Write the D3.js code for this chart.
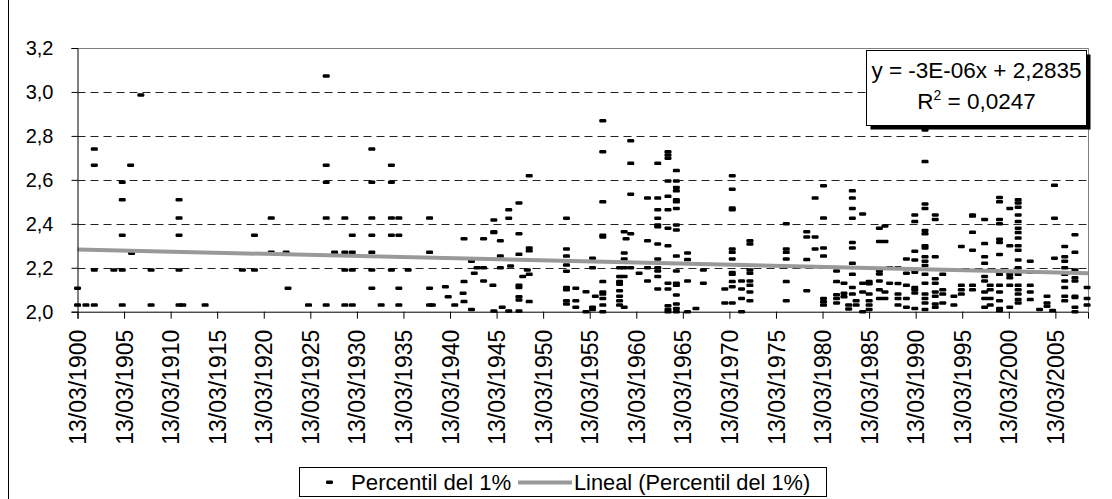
<!DOCTYPE html>
<html>
<head>
<meta charset="utf-8">
<script src="https://cdn.jsdelivr.net/npm/d3@7"></script>
<style>
  body { margin: 0; background: #fff; }
  svg { display: block; font-family: "Liberation Sans", Arial, sans-serif; }
</style>
</head>
<body>
<svg width="1112" height="499"></svg>
<script>

// fecha (anio decimal) de cada columna de puntos, y sus valores
var columnasAnio = [
  1900.2, 1901.1, 1902.0, 1904.1, 1905.0, 1905.9, 1906.0, 1907.0, 1908.1, 1911.1,
  1911.5, 1913.9, 1917.9, 1919.2, 1921.0, 1922.6, 1922.8, 1925.0, 1926.9, 1927.8,
  1928.9, 1929.7, 1931.8, 1932.8, 1933.9, 1934.7, 1935.7, 1938.0, 1938.3, 1939.7,
  1940.0, 1940.7, 1941.7, 1941.6, 1942.5, 1942.8, 1943.1, 1943.8, 1944.8, 1944.9,
  1945.6, 1945.8, 1946.5, 1946.7, 1947.6, 1948.0, 1948.5, 1948.7, 1952.7, 1953.7,
  1954.8, 1955.5, 1955.8, 1956.6, 1958.4, 1958.9, 1959.1, 1959.6, 1960.5, 1961.4,
  1962.5, 1963.6, 1964.5, 1965.7, 1966.6, 1967.4, 1969.7, 1970.5, 1971.5, 1972.4,
  1976.3, 1978.5, 1979.4, 1980.3, 1981.7, 1982.5, 1983.0, 1983.4, 1983.8, 1984.5,
  1985.2, 1986.3, 1986.9, 1987.4, 1988.3, 1989.2, 1990.1, 1991.2, 1992.3, 1993.1,
  1994.3, 1995.1, 1996.3, 1997.6, 1998.2, 1999.2, 2000.3, 2001.2, 2002.5, 2003.5,
  2004.3, 2004.9, 2005.1, 2006.2, 2007.3, 2008.6
];

var columnasValores = [
  [2.107, 2.03], [2.03], [2.74, 2.667, 2.19, 2.03], [2.19], [2.589, 2.51, 2.348, 2.19, 2.03],
  [2.667], [2.266], [2.986], [2.19, 2.03], [2.51, 2.426, 2.348, 2.19, 2.03],
  [2.03], [2.03], [2.19], [2.348, 2.19], [2.426, 2.27],
  [2.27], [2.107], [2.03], [3.073, 2.667, 2.589, 2.426, 2.03], [2.27],
  [2.426, 2.27, 2.19, 2.03], [2.348, 2.27, 2.19, 2.03], [2.74, 2.589, 2.426, 2.348, 2.27, 2.19, 2.107], [2.03], [2.667, 2.589, 2.426, 2.348, 2.19],
  [2.426, 2.348, 2.107, 2.03], [2.19], [2.426, 2.27, 2.107, 2.03], [2.03], [2.114],
  [2.068], [2.03], [2.332, 2.137, 2.046], [2.084], [2.23, 2.01],
  [2.175], [2.2], [2.332, 2.2, 2.14], [2.12], [2.417, 2.364, 2.36, 2.003],
  [2.323, 2.253, 2.2], [2.02], [2.464, 2.425, 2.003], [2.208], [2.495, 2.355, 2.261, 2.12, 2.11, 2.068, 2.053, 2.003],
  [2.16], [2.19], [2.619, 2.29, 2.277, 2.17, 2.046], [2.425, 2.285, 2.253, 2.212, 2.184, 2.11, 2.1, 2.05, 2.035], [2.107, 2.05, 2.02],
  [2.091, 2.0], [2.243, 2.2, 2.02, 2.01], [2.07], [2.869, 2.728, 2.5, 2.348, 2.34, 2.137, 2.09, 2.08, 2.06, 2.03, 2.0], [2.2, 2.16, 2.137, 2.125, 2.095, 2.07, 2.05, 2.03],
  [2.364, 2.267, 2.24, 2.2, 2.16, 2.02], [2.332], [2.778, 2.675, 2.535, 2.355, 2.2], [2.175], [2.517, 2.323, 2.2, 2.14],
  [2.517, 2.675, 2.464, 2.425, 2.395, 2.387, 2.308, 2.24, 2.2, 2.185, 2.16, 2.103],
  [2.728, 2.713, 2.698, 2.595, 2.525, 2.464, 2.38, 2.3, 2.13, 2.103, 2.027, 2.01, 2.0],
  [2.642, 2.595, 2.565, 2.55, 2.51, 2.5, 2.47, 2.395, 2.372, 2.253, 2.185, 2.13, 2.12, 2.076, 2.035, 2.015, 2.0],
  [2.267, 2.237, 2.14, 2.0], [2.015], [2.19, 2.13], [2.103, 2.04],
  [2.619, 2.557, 2.472, 2.464, 2.285, 2.27, 2.24, 2.178, 2.17, 2.137, 2.114, 2.04],
  [2.14, 2.103, 2.06, 2.0], [2.323, 2.308, 2.19, 2.175, 2.14, 2.12, 2.09, 2.05],
  [2.4, 2.285, 2.27, 2.24, 2.137, 2.05], [2.364, 2.34, 2.237, 2.095], [2.517, 2.34, 2.285],
  [2.573, 2.426, 2.29, 2.253, 2.06, 2.045, 2.03], [2.185, 2.137, 2.077, 2.06, 2.04], [2.13, 2.084, 2.068], [2.03, 2.012],
  [2.55, 2.517, 2.47, 2.425, 2.315, 2.29, 2.22, 2.17, 2.11, 2.08], [2.05, 2.03], [2.445, 2.13, 2.09, 2.0],
  [2.137, 2.127, 2.08, 2.05, 2.03, 2.01], [2.38, 2.32, 2.185, 2.172, 2.14, 2.1, 2.06], [2.39, 2.32, 2.09, 2.06],
  [2.2, 2.13], [2.2, 2.128, 2.08, 2.06, 2.03], [2.24, 2.175, 2.12, 2.06, 2.02],
  [2.44, 2.41, 2.275, 2.235, 2.18, 2.11, 2.1, 2.085, 2.015],
  [2.827, 2.683, 2.49, 2.47, 2.37, 2.355, 2.3, 2.29, 2.25, 2.23, 2.21, 2.17, 2.13, 2.08, 2.06, 2.04, 2.01],
  [2.44, 2.42, 2.25, 2.15, 2.13, 2.09, 2.07, 2.035, 2.02], [2.17, 2.1, 2.08, 2.04], [2.07, 2.03],
  [2.297, 2.12, 2.1, 2.08], [2.44, 2.435, 2.361, 2.28, 2.12, 2.1], [2.42, 2.31, 2.25, 2.22, 2.16, 2.14, 2.09, 2.06, 2.02],
  [2.12, 2.1, 2.06, 2.03], [2.52, 2.5, 2.42, 2.4, 2.33, 2.315, 2.26, 2.17, 2.12, 2.09, 2.05, 2.015, 2.005],
  [2.47, 2.3, 2.17, 2.155, 2.12, 2.02],
  [2.51, 2.495, 2.475, 2.44, 2.41, 2.38, 2.36, 2.335, 2.3, 2.28, 2.235, 2.2, 2.17, 2.12, 2.1, 2.08, 2.055, 2.04],
  [2.23, 2.18, 2.12, 2.09, 2.055], [2.01], [2.07, 2.04, 2.025], [2.005], [2.575, 2.425, 2.243],
  [2.297, 2.25, 2.23, 2.2, 2.17, 2.14, 2.11, 2.07, 2.05], [2.35, 2.27, 2.19, 2.155, 2.14, 2.07, 2.065, 2.02, 2.0],
  [2.11, 2.06, 2.03]
];

var etiquetasX = ["13/03/1900", "13/03/1905", "13/03/1910", "13/03/1915", "13/03/1920", "13/03/1925",
  "13/03/1930", "13/03/1935", "13/03/1940", "13/03/1945", "13/03/1950", "13/03/1955", "13/03/1960",
  "13/03/1965", "13/03/1970", "13/03/1975", "13/03/1980", "13/03/1985", "13/03/1990", "13/03/1995",
  "13/03/2000", "13/03/2005"];
var ticksY = [2.0, 2.2, 2.4, 2.6, 2.8, 3.0, 3.2];
var rangoFechas = ["13/03/1900", "13/09/2008"];

// tendencia lineal de Excel (x = numero de serie de fecha)
var tendPendiente = -2.72e-6;
var tendOrdenada = 2.2835;
var textoEcuacion = "y = -3E-06x + 2,2835";
var textoR2 = "0,0247";

var parse = d3.utcParse("%d/%m/%Y");
var serieBase = Date.UTC(1899, 11, 30);

function fechaDeAnio(a) {
  var y0 = Math.floor(a);
  var s = Date.UTC(y0, 0, 1), e = Date.UTC(y0 + 1, 0, 1);
  return new Date(s + (a - y0) * (e - s));
}

var puntos = [];
columnasAnio.forEach(function(a, i) {
  columnasValores[i].forEach(function(v) {
    puntos.push({fecha: fechaDeAnio(a), valor: v});
  });
});

var svg = d3.select("svg");
var pLeft = 77.5, pRight = 1088, pTop = 48, pBottom = 311.7;

var x = d3.scaleUtc()
    .domain(rangoFechas.map(parse))
    .range([pLeft, pRight]);
var y = d3.scaleLinear()
    .domain([2.0, 3.2])
    .range([pBottom, pTop]);

// marco del grafico
svg.append("line")
    .attr("x1", 8.5).attr("x2", 8.5).attr("y1", 0).attr("y2", 499)
    .attr("stroke", "#000");

// lineas de division
svg.append("g")
  .selectAll("line")
  .data(ticksY.filter(function(d) { return d > 2.0 && d < 3.2; }))
  .enter().append("line")
    .attr("x1", pLeft).attr("x2", pRight)
    .attr("y1", function(d) { return Math.round(y(d)) + 0.5; })
    .attr("y2", function(d) { return Math.round(y(d)) + 0.5; })
    .attr("stroke", "#222")
    .attr("stroke-dasharray", "8,5");

// borde del area de trazado
svg.append("path")
    .attr("d", "M" + pLeft + "," + (pTop + 0.5) + "H" + (pRight + 0.5) + "V" + pBottom)
    .attr("fill", "none")
    .attr("stroke", "#808080");

// puntos (marcador guion)
svg.append("g")
  .selectAll("rect")
  .data(puntos)
  .enter().append("rect")
    .attr("x", function(d) { return x(d.fecha) - 3.5; })
    .attr("y", function(d) { return y(d.valor) - 1.75; })
    .attr("width", 7)
    .attr("height", 3.5)
    .attr("rx", 1.2)
    .attr("fill", "#000");

// linea de tendencia
var dom = x.domain();
var tend = dom.map(function(f) {
  var serie = (f - serieBase) / 86400000;
  return {fecha: f, valor: tendPendiente * serie + tendOrdenada};
});
svg.append("path")
    .datum(tend)
    .attr("d", d3.line().x(function(d) { return x(d.fecha); }).y(function(d) { return y(d.valor); }))
    .attr("stroke", "#999")
    .attr("stroke-width", 4)
    .attr("fill", "none");

// ejes
var ejeY = svg.append("g")
    .attr("transform", "translate(" + pLeft + ",0)")
    .call(d3.axisLeft(y).tickValues(ticksY).tickSize(6).tickPadding(18)
      .tickFormat(function(d) { return d.toFixed(1).replace(".", ","); }));
ejeY.select(".domain").attr("stroke", "#000");
ejeY.selectAll("text").attr("font-size", 20).attr("fill", "#000").attr("font-family", null);

var ejeX = svg.append("g")
    .attr("transform", "translate(0," + pBottom + ")")
    .call(d3.axisBottom(x).tickValues(etiquetasX.map(parse)).tickSize(7)
      .tickFormat(d3.utcFormat("%d/%m/%Y")));
ejeX.select(".domain").attr("stroke", "#000");
ejeX.selectAll("text")
    .attr("font-size", 23).attr("fill", "#000").attr("font-family", null)
    .attr("text-anchor", "end")
    .attr("transform", "rotate(-90)")
    .attr("x", -18).attr("y", 0).attr("dy", "0.35em");

// cuadro de la ecuacion
var caja = {x: 866.5, y: 50.5, w: 220, h: 75};
svg.append("rect")
    .attr("x", caja.x + 4).attr("y", caja.y + 4).attr("width", caja.w).attr("height", caja.h)
    .attr("fill", "#000");
svg.append("rect")
    .attr("x", caja.x).attr("y", caja.y).attr("width", caja.w).attr("height", caja.h)
    .attr("fill", "#fff").attr("stroke", "#000");
svg.append("text")
    .attr("x", caja.x + caja.w / 2).attr("y", 78)
    .attr("text-anchor", "middle").attr("font-size", 22.5)
    .text(textoEcuacion);
var r2 = svg.append("text")
    .attr("x", caja.x + caja.w / 2).attr("y", 109)
    .attr("text-anchor", "middle").attr("font-size", 22.5);
r2.append("tspan").text("R");
r2.append("tspan").attr("font-size", 14).attr("dy", -9).text("2");
r2.append("tspan").attr("dy", 9).text(" = " + textoR2);

// leyenda
var ley = svg.append("g");
ley.append("rect")
    .attr("x", 299.5).attr("y", 467.5).attr("width", 527).attr("height", 29)
    .attr("fill", "#fff").attr("stroke", "#000");
ley.append("rect")
    .attr("x", 326).attr("y", 480.5).attr("width", 7).attr("height", 3.5).attr("rx", 1.2).attr("fill", "#000");
ley.append("text")
    .attr("x", 351).attr("y", 490).attr("font-size", 22.2)
    .text("Percentil del 1%");
ley.append("line")
    .attr("x1", 518).attr("x2", 572).attr("y1", 482.5).attr("y2", 482.5)
    .attr("stroke", "#999").attr("stroke-width", 4);
ley.append("text")
    .attr("x", 574).attr("y", 490).attr("font-size", 21.8)
    .text("Lineal (Percentil del 1%)");

</script>
</body>
</html>
